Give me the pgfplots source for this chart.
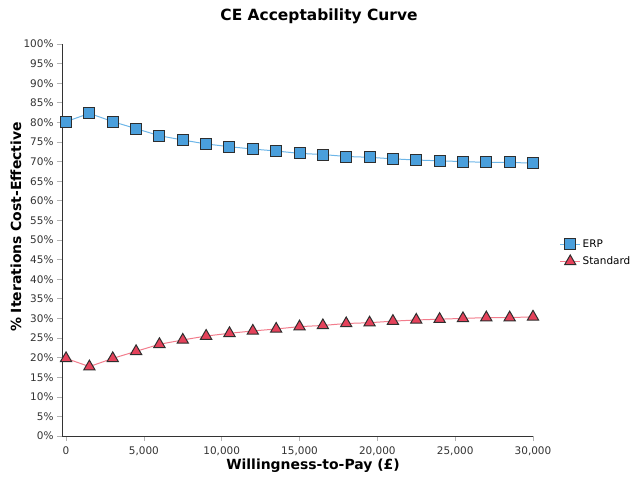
\documentclass[border=0pt]{standalone}
\usepackage{pgfplots}
\pgfplotsset{compat=1.18}
\usepackage{fontspec}
\setmainfont{DejaVu Sans}
\definecolor{erpfill}{HTML}{4A9FDC}
\definecolor{erpline}{HTML}{6DB6E8}
\definecolor{stdfill}{HTML}{E5425B}
\definecolor{stdline}{HTML}{F27C8C}
\definecolor{edge}{HTML}{2E2E2E}
\definecolor{tickc}{HTML}{333333}
\begin{document}
\begin{tikzpicture}
\path[use as bounding box] (0bp,0bp) rectangle (640bp,480bp);
\begin{axis}[
  at={(62bp,44bp)}, anchor=south west,
  scale only axis, width=471bp, height=392bp,
  xmin=-260, xmax=30000, ymin=0, ymax=100,
  axis lines=left, axis line style={-, draw=black!80, line width=0.8pt},
  xtick={0,5000,...,30000}, ytick={0,5,...,100},
  scaled x ticks=false,
  /pgf/number format/assume math mode=true,
  /pgf/number format/1000 sep={,},
  yticklabel={\pgfmathprintnumber{\tick}\%},
  tick style={draw=black!30, line width=0.6pt},
  tick align=outside, major tick length=5bp,
  ticklabel style={font=\fontsize{10.5}{12}\selectfont, text=tickc},
  xticklabel style={yshift=-2bp},
  legend style={at={(1.05,0.467)}, anchor=west, draw=none, fill=none,
    font=\fontsize{10.5}{12}\selectfont, row sep=4bp,
    nodes={inner xsep=2bp}},
  legend cell align=left,
  legend image code/.code={
    \draw[#1, mark repeat=2, mark phase=2] plot coordinates {(0bp,0bp) (10bp,0bp) (20bp,0bp)};},
  clip=false,
]
\addplot[color=erpline, line width=1pt, mark=square*, mark size=5.5bp,
  mark options={fill=erpfill, draw=edge, line width=1pt}] coordinates {
(0,80.2) (1500,82.3) (3000,80.2) (4500,78.4) (6000,76.6) (7500,75.5) (9000,74.5)
(10500,73.8) (12000,73.2) (13500,72.7) (15000,72.1) (16500,71.8) (18000,71.3)
(19500,71.1) (21000,70.7) (22500,70.4) (24000,70.2) (25500,70.0) (27000,69.8)
(28500,69.8) (30000,69.6)};
\addlegendentry{ERP}
\addplot[color=stdline, line width=1pt, mark=triangle*, mark size=6.5bp,
  mark options={fill=stdfill, draw=edge, line width=1pt}] coordinates {
(0,19.8) (1500,17.7) (3000,19.8) (4500,21.6) (6000,23.4) (7500,24.5) (9000,25.5)
(10500,26.2) (12000,26.8) (13500,27.3) (15000,27.9) (16500,28.2) (18000,28.7)
(19500,28.9) (21000,29.3) (22500,29.6) (24000,29.8) (25500,30.0) (27000,30.2)
(28500,30.2) (30000,30.4)};
\addlegendentry{Standard}
\end{axis}
\node[font=\fontsize{15.5}{17}\selectfont\bfseries] at (319bp,464bp) {CE Acceptability Curve};
\node[font=\fontsize{14}{16}\selectfont\bfseries] at (313bp,14bp) {Willingness-to-Pay (£)};
\node[font=\fontsize{14}{16}\selectfont\bfseries, rotate=90] at (16bp,253bp) {\% Iterations Cost-Effective};
\end{tikzpicture}
\end{document}
